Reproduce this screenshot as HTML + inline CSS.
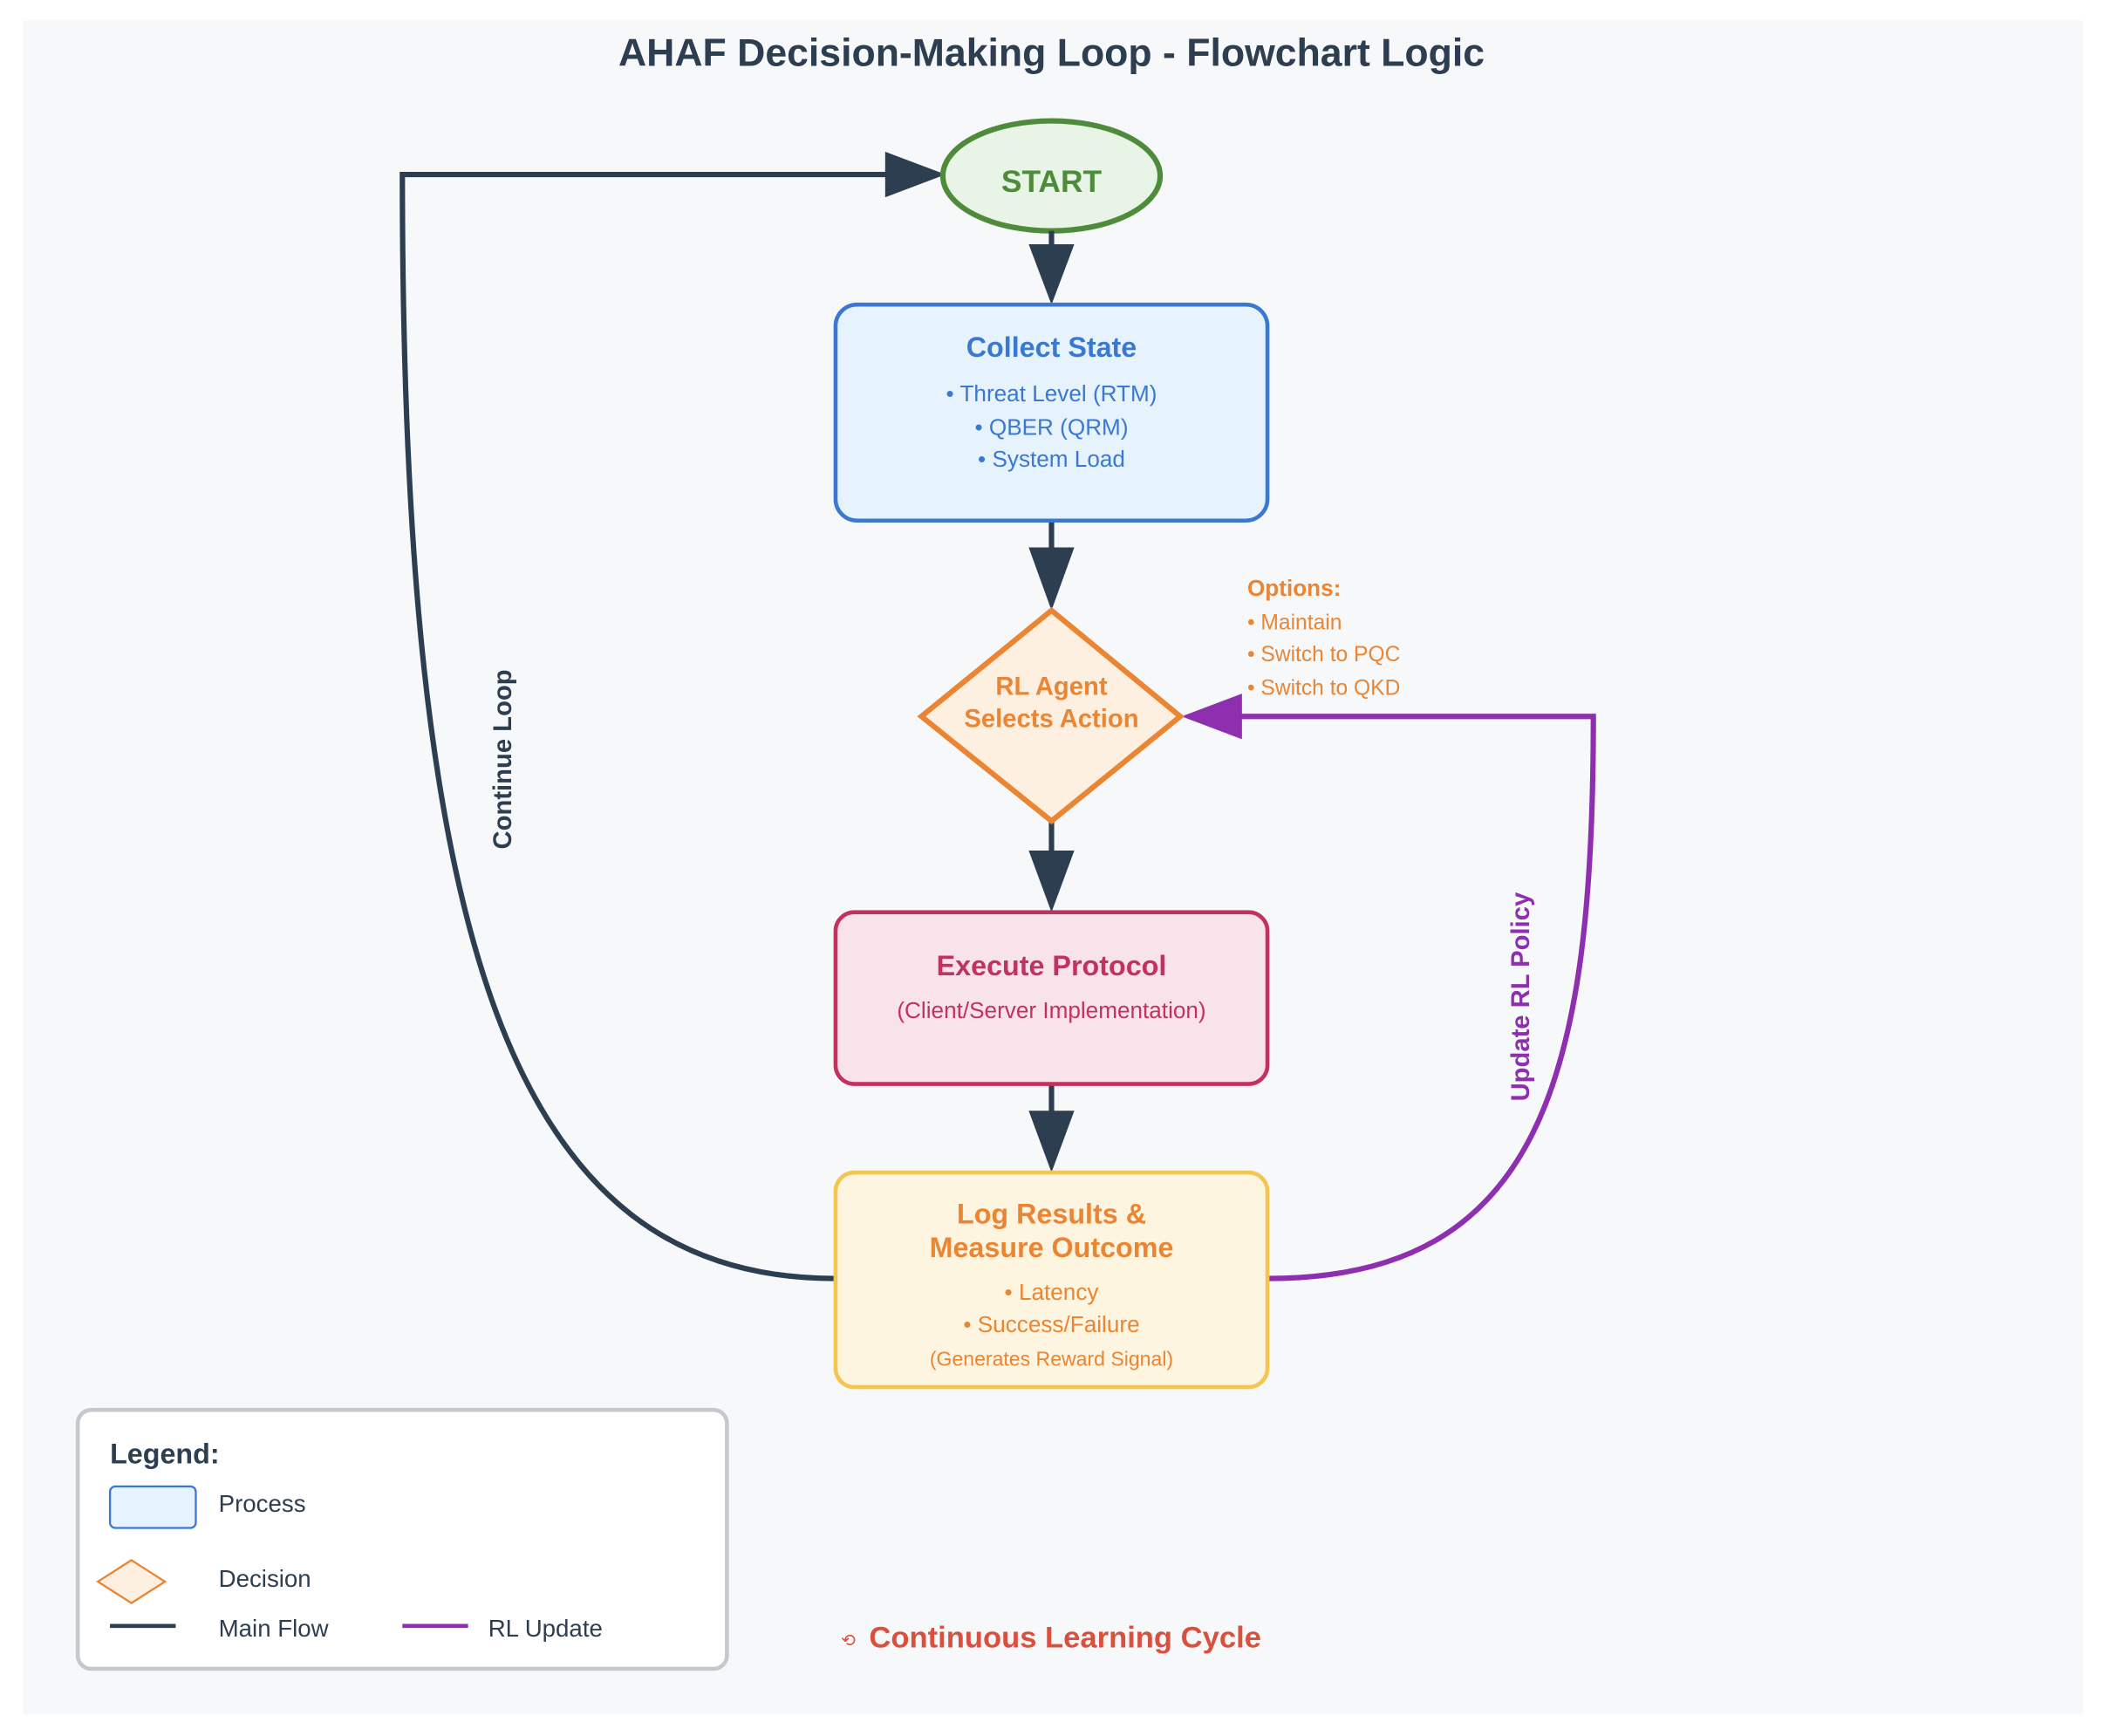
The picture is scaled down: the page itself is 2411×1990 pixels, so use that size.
<!DOCTYPE html>
<html><head><meta charset="utf-8"><style>
html,body{margin:0;padding:0;background:#fff;}
svg{display:block;}
text{font-family:"Liberation Sans",Arial,sans-serif;}
</style></head><body>
<svg width="2411" height="1990" viewBox="0 0 1568 1294" xmlns="http://www.w3.org/2000/svg">
<rect x="17" y="15" width="1536" height="1263" fill="#f7f8fa"/>
<text x="784" y="49" text-anchor="middle" font-size="29" font-weight="bold" fill="#2c3e50">AHAF Decision-Making Loop - Flowchart Logic</text>

<path d="M622 953 C380 953 300 700 300 130 L665 130" fill="none" stroke="#2c3e50" stroke-width="4"/>
<polygon points="660,113 705,130 660,147" fill="#2c3e50"/>
<text transform="translate(381,566) rotate(-90)" text-anchor="middle" font-size="19" font-weight="bold" fill="#2c3e50">Continue Loop</text>

<path d="M946 953 C1150 953 1188 800 1188 534 L920 534" fill="none" stroke="#8e2fb0" stroke-width="4"/>
<polygon points="926,517 881,534 926,551" fill="#8e2fb0"/>
<text transform="translate(1140,743) rotate(-90)" text-anchor="middle" font-size="19" font-weight="bold" fill="#8e2fb0">Update RL Policy</text>

<ellipse cx="784" cy="131" rx="81" ry="41" fill="#e8f4e6" stroke="#4e8b3a" stroke-width="4"/>
<text x="784" y="143" text-anchor="middle" font-size="23" font-weight="bold" fill="#4e8b3a">START</text>

<g fill="#2c3e50" stroke="#2c3e50">
<line x1="784" y1="172" x2="784" y2="190" stroke-width="4"/>
<polygon points="767,182 801,182 784,227" stroke="none"/>
<line x1="784" y1="388" x2="784" y2="420" stroke-width="4"/>
<polygon points="767,408 801,408 784,455" stroke="none"/>
<line x1="784" y1="612" x2="784" y2="640" stroke-width="4"/>
<polygon points="767,634 801,634 784,680" stroke="none"/>
<line x1="784" y1="808" x2="784" y2="835" stroke-width="4"/>
<polygon points="767,828 801,828 784,874" stroke="none"/>
</g>

<rect x="623" y="227" width="322" height="161" rx="16" fill="#e6f2fc" stroke="#3a78d2" stroke-width="3"/>
<text x="784" y="266" text-anchor="middle" font-size="21" font-weight="bold" fill="#3a78d2">Collect State</text>
<g font-size="17" fill="#3a78d2" text-anchor="middle">
<text x="784" y="299">• Threat Level (RTM)</text>
<text x="784" y="324">• QBER (QRM)</text>
<text x="784" y="348">• System Load</text>
</g>

<polygon points="784,455 880,534 784,612 687,534" fill="#fdf0e0" stroke="#ea8534" stroke-width="4"/>
<text x="784" y="518" text-anchor="middle" font-size="19" font-weight="bold" fill="#ea8534">RL Agent</text>
<text x="784" y="542" text-anchor="middle" font-size="19" font-weight="bold" fill="#ea8534">Selects Action</text>
<g font-size="16" fill="#ea8534">
<text x="930" y="444" font-weight="bold" font-size="17">Options:</text>
<text x="930" y="469">• Maintain</text>
<text x="930" y="493">• Switch to PQC</text>
<text x="930" y="518">• Switch to QKD</text>
</g>

<rect x="623" y="680" width="322" height="128" rx="14" fill="#f8e3ea" stroke="#c3325f" stroke-width="3"/>
<text x="784" y="727" text-anchor="middle" font-size="21" font-weight="bold" fill="#c3325f">Execute Protocol</text>
<text x="784" y="759" text-anchor="middle" font-size="17" fill="#c3325f">(Client/Server Implementation)</text>

<rect x="623" y="874" width="322" height="160" rx="14" fill="#fdf5e0" stroke="#f4c64e" stroke-width="3"/>
<text x="784" y="912" text-anchor="middle" font-size="21" font-weight="bold" fill="#ea8534">Log Results &amp;</text>
<text x="784" y="937" text-anchor="middle" font-size="21" font-weight="bold" fill="#ea8534">Measure Outcome</text>
<g text-anchor="middle" fill="#ea8534">
<text x="784" y="969" font-size="17">• Latency</text>
<text x="784" y="993" font-size="17">• Success/Failure</text>
<text x="784" y="1018" font-size="15">(Generates Reward Signal)</text>
</g>

<rect x="58" y="1051" width="484" height="193" rx="10" fill="#fff" stroke="#c5c9cd" stroke-width="3"/>
<text x="82" y="1091" font-size="21" font-weight="bold" fill="#2c3e50">Legend:</text>
<rect x="82" y="1108" width="64" height="31" rx="4" fill="#e6f2fc" stroke="#3a78d2" stroke-width="1.5"/>
<text x="163" y="1127" font-size="18" fill="#2c3e50">Process</text>
<polygon points="98,1163 123,1179 98,1195 73,1179" fill="#fdf0e0" stroke="#ea8534" stroke-width="1.5"/>
<text x="163" y="1183" font-size="18" fill="#2c3e50">Decision</text>
<line x1="82" y1="1212" x2="131" y2="1212" stroke="#2c3e50" stroke-width="3"/>
<text x="163" y="1220" font-size="18" fill="#2c3e50">Main Flow</text>
<line x1="300" y1="1212" x2="349" y2="1212" stroke="#8e2fb0" stroke-width="3"/>
<text x="364" y="1220" font-size="18" fill="#2c3e50">RL Update</text>

<text x="627" y="1227" font-size="13" fill="#d9503f">⟲</text>
<text x="648" y="1228" font-size="22.5" font-weight="bold" fill="#d9503f">Continuous Learning Cycle</text>
</svg>
</body></html>
